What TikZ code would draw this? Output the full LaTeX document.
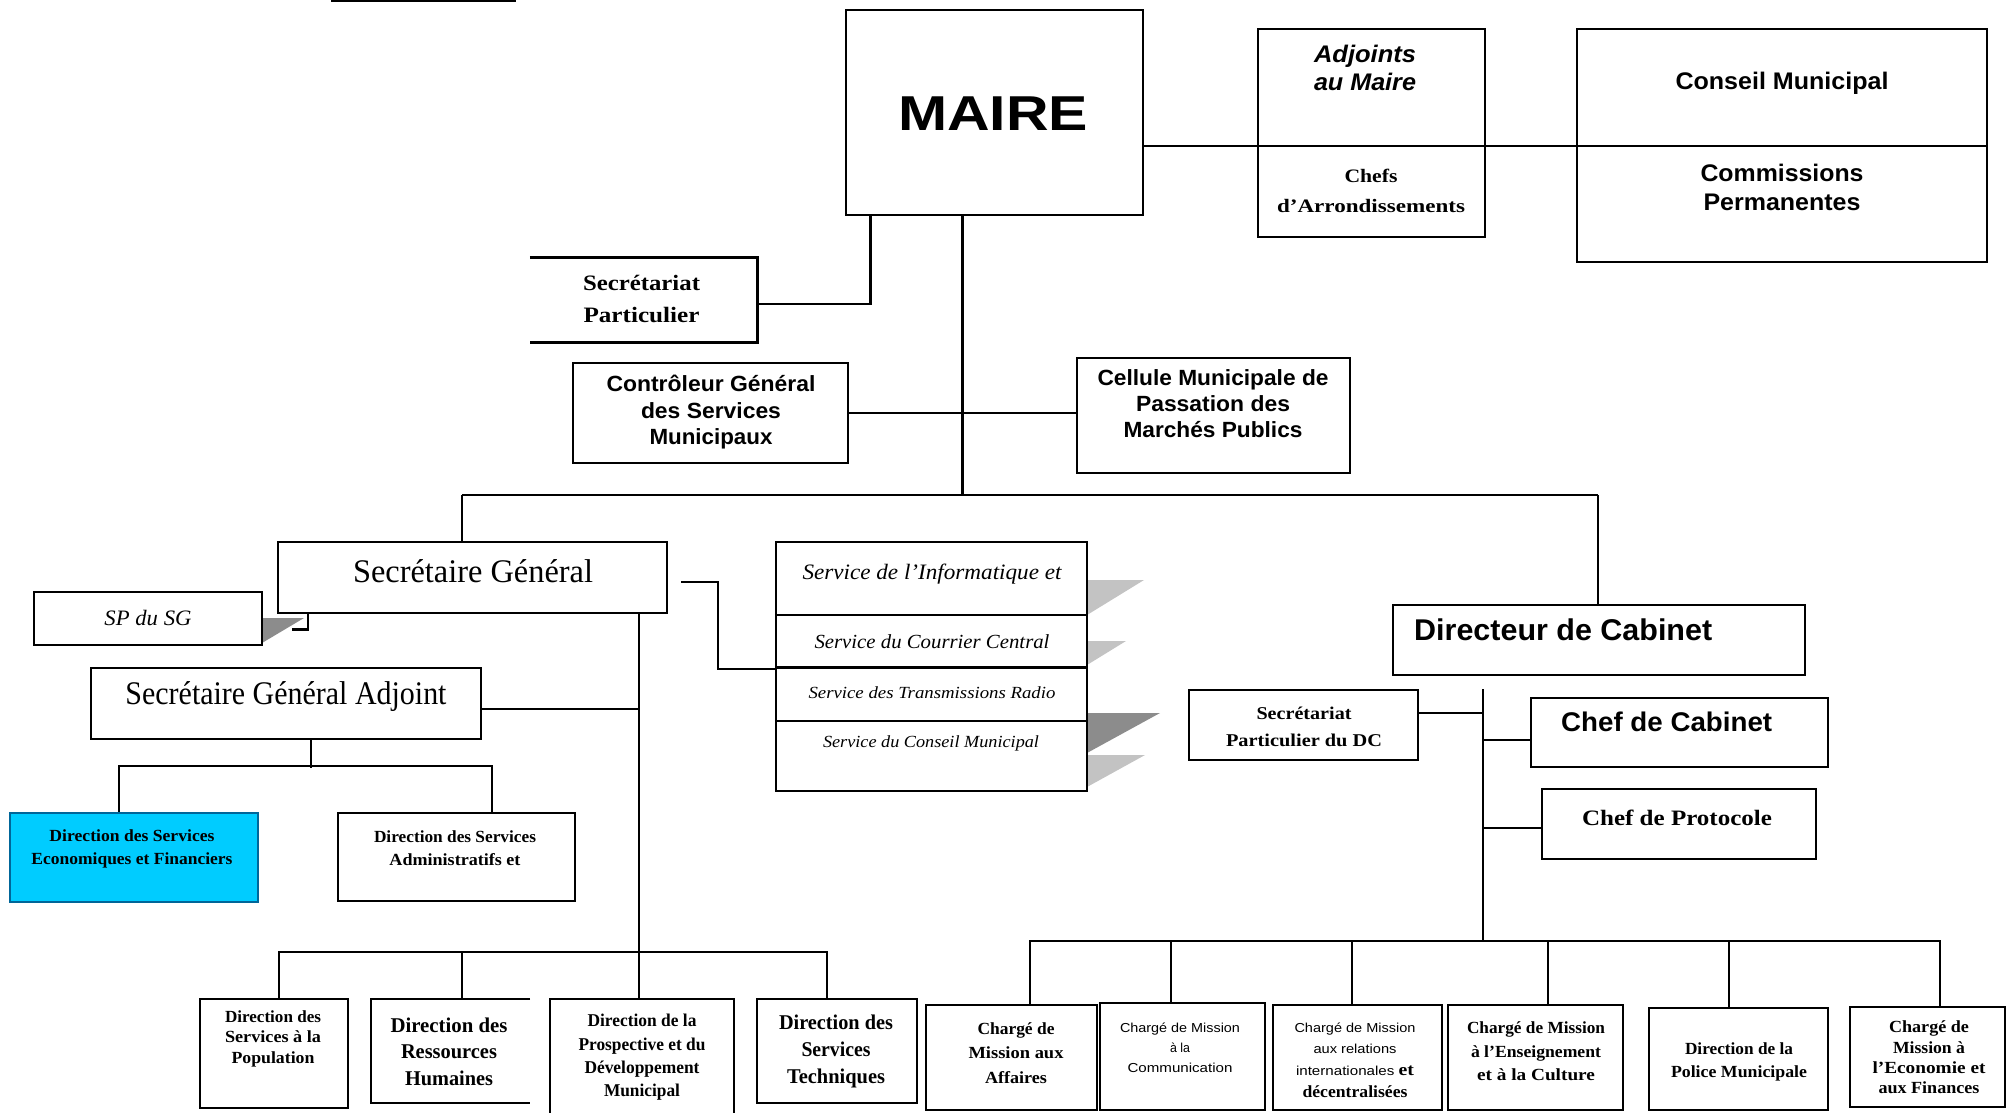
\documentclass[tikz,border=0pt]{standalone}
\usepackage{fontspec}
\setmainfont{Liberation Serif}
\setsansfont{Liberation Sans}
\newcommand{\fw}[2]{\resizebox{#1pt}{\height}{#2}}
\newcommand{\fs}[2]{\fontsize{#1pt}{#2pt}\selectfont}
\definecolor{cyanbox}{RGB}{0,204,255}
\definecolor{bluebord}{RGB}{0,102,153}
\definecolor{shlight}{RGB}{195,195,195}
\definecolor{shdark}{RGB}{140,140,140}
\begin{document}
\begin{tikzpicture}[x=1pt,y=-1pt,
  box/.style={draw, line width=2.2pt, inner sep=0pt},
  txt/.style={inner sep=0pt, align=center},
  conn/.style={line width=2.8pt},
  thinline/.style={line width=1.5pt}]
\useasboundingbox (0,0) rectangle (2011,1112);
\fill[white] (0,0) rectangle (2011,1112);

% stray top rule
\draw[line width=2.5pt] (331,1) -- (516,1);

% shadows
\fill[shlight] (1087,580) -- (1144,580) -- (1087,615) -- cycle;
\fill[shlight] (1087,641) -- (1126,641) -- (1087,665) -- cycle;
\fill[shdark]  (1087,713) -- (1160,713) -- (1087,753) -- cycle;
\fill[shlight] (1087,755) -- (1145,755) -- (1087,787) -- cycle;
\fill[shdark]  (262,618) -- (304,618) -- (262,643) -- cycle;

% ---------- boxes ----------
\node[box, line width=1.6pt, minimum width=297pt, minimum height=205pt] (maire) at (994.5,112.5) {};
\node[box, minimum width=227pt, minimum height=208pt] (adj) at (1371.5,133) {};
\node[box, minimum width=410pt, minimum height=233pt] (cons) at (1782,145.5) {};
\node[inner sep=0pt, minimum width=227pt, minimum height=84pt] (secp) at (643.5,300) {};
\node[box, minimum width=275pt, minimum height=100pt] (ctrl) at (710.5,413) {};
\node[box, minimum width=273pt, minimum height=115pt] (cell) at (1213.5,415.5) {};
\node[box, minimum width=389pt, minimum height=71pt] (sg) at (472.5,577.5) {};
\node[box, minimum width=228pt, minimum height=53pt] (spsg) at (148,618.5) {};
\node[box, minimum width=390pt, minimum height=71pt] (sga) at (286,703.5) {};
\node[box, draw=bluebord, fill=cyanbox, minimum width=248pt, minimum height=89pt] (dsef) at (134,857.5) {};
\node[box, minimum width=237pt, minimum height=88pt] (dsae) at (456.5,857) {};
\node[box, minimum width=311pt, minimum height=249pt] (svc) at (931.5,666.5) {};
\node[box, minimum width=412pt, minimum height=70pt] (dc) at (1599,640) {};
\node[box, minimum width=229pt, minimum height=70pt] (spdc) at (1303.5,725) {};
\node[box, minimum width=297pt, minimum height=69pt] (cc) at (1679.5,732.5) {};
\node[box, minimum width=274pt, minimum height=70pt] (cp) at (1679,824) {};
\node[box, minimum width=148pt, minimum height=109pt] (b1) at (274,1053.5) {};
\node[inner sep=0pt, minimum width=159pt, minimum height=104pt] (b2) at (450.5,1051) {};
\node[box, minimum width=184pt, minimum height=120pt] (b3) at (642,1059) {};
\node[box, minimum width=160pt, minimum height=104pt] (b4) at (837,1051) {};
\node[box, minimum width=171pt, minimum height=105pt] (r1) at (1011.5,1057.5) {};
\node[box, minimum width=165pt, minimum height=107pt] (r2) at (1182.5,1056.5) {};
\node[box, minimum width=169pt, minimum height=105pt] (r3) at (1357.5,1057.5) {};
\node[box, minimum width=175pt, minimum height=105pt] (r4) at (1535.5,1057.5) {};
\node[box, minimum width=179pt, minimum height=102pt] (r5) at (1738.5,1059) {};
\node[box, minimum width=155pt, minimum height=100pt] (r6) at (1927.5,1057) {};

% open-sided boxes
\draw[line width=2.8pt] (secp.north west) -- (secp.north east) -- (secp.south east) -- (secp.south west);
\draw[line width=2.2pt] (b2.north east) -- (b2.north west) -- (b2.south west) -- (b2.south east);

% dividers
\draw[thinline] ([yshift=-13pt]adj.west) -- ([yshift=-13pt]adj.east);
\draw[thinline] ([yshift=-0.5pt]cons.west) -- ([yshift=-0.5pt]cons.east);
\draw[line width=2pt] ([yshift=51.5pt]svc.west) -- ([yshift=51.5pt]svc.east);
\draw[line width=3pt] ([yshift=-0.5pt]svc.west) -- ([yshift=-0.5pt]svc.east);
\draw[line width=2pt] ([yshift=-54.5pt]svc.west) -- ([yshift=-54.5pt]svc.east);

% ---------- texts ----------
\node[txt, font=\sffamily\bfseries\fs{49}{50}] (mairet) at (993,114) {\fw{190}{MAIRE}};
\node[txt, font=\sffamily\bfseries\itshape\fs{24}{28}] (adjt) at (1365,68) {\fw{102}{Adjoints}\\\fw{102}{au Maire}};
\node[txt, font=\bfseries\fs{19}{30}] (chefst) at (1371,191) {\fw{53}{Chefs}\\\fw{188}{d’Arrondissements}};
\node[txt, font=\sffamily\bfseries\fs{24}{29}] (const) at (1782,83) {\fw{213}{Conseil Municipal}};
\node[txt, font=\sffamily\bfseries\fs{24}{29}] (commt) at (1782,187.5) {\fw{163}{Commissions}\\\fw{157}{Permanentes}};
\node[txt, font=\bfseries\fs{22}{32}] (secpt) at (641.5,299) {\fw{117}{Secrétariat}\\\fw{116}{Particulier}};
\node[txt, font=\sffamily\bfseries\fs{22}{26.5}] (ctrlt) at (711,412.5) {\fw{209}{Contrôleur Général}\\\fw{140}{des Services}\\\fw{123}{Municipaux}};
\node[txt, font=\sffamily\bfseries\fs{22}{26}] (cellt) at (1213,404) {\fw{231}{Cellule Municipale de}\\\fw{154}{Passation des}\\\fw{179}{Marchés Publics}};
\node[txt, font=\fs{33}{36}] (sgt) at (473,571) {\fw{240}{Secrétaire Général}};
\node[txt, font=\itshape\fs{22}{24}] (spsgt) at (148,618) {\fw{87}{SP du SG}};
\node[txt, font=\fs{33}{36}] (sgat) at (286,697) {\fw{321}{Secrétaire Général Adjoint}};
\node[txt, font=\bfseries\fs{17}{23}] (dseft) at (132,848.5) {\fw{165}{Direction des Services}\\\fw{201}{Economiques et Financiers}};
\node[txt, font=\bfseries\fs{17}{23}] (dsaet) at (455,848.5) {\fw{162}{Direction des Services}\\\fw{131}{Administratifs et}};
\node[txt, font=\itshape\fs{22}{24}] (svc1) at (932,574) {\fw{259}{Service de l’Informatique et}};
\node[txt, font=\itshape\fs{20}{22}] (svc2) at (932,642) {\fw{235}{Service du Courrier Central}};
\node[txt, font=\itshape\fs{17}{20}] (svc3) at (932,693) {\fw{247}{Service des Transmissions Radio}};
\node[txt, font=\itshape\fs{17}{20}] (svc4) at (931,743) {\fw{216}{Service du Conseil Municipal}};
\node[txt, anchor=west, font=\sffamily\bfseries\fs{30}{32}] (dct) at (1414,630) {\fw{298}{Directeur de Cabinet}};
\node[txt, font=\bfseries\fs{18}{27}] (spdct) at (1304,726.5) {\fw{95}{Secrétariat}\\\fw{156}{Particulier du DC}};
\node[txt, anchor=west, font=\sffamily\bfseries\fs{27}{30}] (cct) at (1561,722) {\fw{211}{Chef de Cabinet}};
\node[txt, font=\bfseries\fs{22}{24}] (cpt) at (1677,818) {\fw{190}{Chef de Protocole}};
\node[txt, font=\bfseries\fs{17}{20.5}] (b1t) at (273,1038.5) {\fw{96}{Direction des}\\\fw{96}{Services à la}\\\fw{83}{Population}};
\node[txt, font=\bfseries\fs{21}{26.5}] (b2t) at (449,1051.5) {\fw{117}{Direction des}\\\fw{96}{Ressources}\\\fw{88}{Humaines}};
\node[txt, font=\bfseries\fs{18}{23.3}] (b3t) at (642,1057.5) {\fw{109}{Direction de la}\\\fw{127}{Prospective et du}\\\fw{115}{Développement}\\\fw{76}{Municipal}};
\node[txt, font=\bfseries\fs{21}{27}] (b4t) at (836,1051) {\fw{114}{Direction des}\\\fw{69}{Services}\\\fw{98}{Techniques}};
\node[txt, font=\bfseries\fs{17}{24.5}] (r1t) at (1016,1053) {\fw{77}{Chargé de}\\\fw{95}{Mission aux}\\\fw{62}{Affaires}};
\node[txt, font=\sffamily\fs{13}{20}] (r2t) at (1180,1048) {\fw{120}{Chargé de Mission}\\\fw{20}{à la}\\\fw{105}{Communication}};
\node[txt, font=\sffamily\fs{13}{21.7}] (r3t) at (1355,1060) {\fw{121}{Chargé de Mission}\\\fw{83}{aux relations}\\\fw{118}{internationales \textbf{\rmfamily\fs{17}{21.7}et}}\\{\rmfamily\bfseries\fs{17}{21.7}\fw{105}{décentralisées}}};
\node[txt, font=\bfseries\fs{17}{23.5}] (r4t) at (1536,1051.5) {\fw{138}{Chargé de Mission}\\\fw{130}{à l’Enseignement}\\\fw{118}{et à la Culture}};
\node[txt, font=\bfseries\fs{17}{23}] (r5t) at (1739,1061.5) {\fw{108}{Direction de la}\\\fw{136}{Police Municipale}};
\node[txt, font=\bfseries\fs{17}{20.3}] (r6t) at (1929,1057.5) {\fw{80}{Chargé de}\\\fw{72}{Mission à}\\\fw{113}{l’Economie et}\\\fw{101}{aux Finances}};

% ---------- connectors ----------
\coordinate (busL) at (462,495);
\coordinate (busM) at (962.5,495);
\coordinate (busR) at (1598,495);
\coordinate (sgbus) at (639,953);
\coordinate (sgout) at (681,582);
\coordinate (dctop) at (1483,689);
\coordinate (dcbus) at (1483,942);

\draw[line width=2pt] ([yshift=-33.5pt]maire.east) -- ([yshift=-13pt]adj.west);
\draw[line width=2pt] ([yshift=-13pt]adj.east) -- ([yshift=-0.5pt]cons.west);
\draw[conn] ([xshift=-124pt]maire.south) |- ([yshift=-4pt]secp.east);
\draw[conn] ([xshift=-32pt]maire.south) -- (busM);
\draw[conn] (ctrl.east) -- ([yshift=2.5pt]cell.west);
\draw[conn] (busL) -- (busR);
\draw[conn] (busL) -- (busL |- sg.north);
\draw[conn] (busR) -- (busR |- dc.north);

% SG branch
\draw[conn] ([xshift=166.5pt]sg.south) -- (sgbus);
\draw[conn] ([xshift=-164.5pt]sg.south) -- ++(0,15) -- ++(-16,0);
\draw[conn] ([yshift=-5.5pt]sga.east) -- ++(158,0);
\draw[conn] (sgout) -- ++(37,0) |- ([yshift=-2.5pt]svc.west);
\draw[conn] ([xshift=25pt]sga.south) -- ++(0,28);
\draw[conn] ([xshift=-15pt]dsef.north) -- ++(0,-46) -| ([xshift=35.5pt]dsae.north);
\draw[conn] ([xshift=5pt]b1.north) -- ++(0,-46) -| ([xshift=-10pt]b4.north);
\draw[conn] ([xshift=11.5pt]b2.north) -- ++(0,-46);
\draw[conn] ([xshift=-3pt]b3.north) -- ++(0,-46);

% DC branch
\draw[conn] (dctop) -- (dcbus);
\draw[conn] ([yshift=12pt]spdc.east) -- ++(65,0);
\draw[conn] ([yshift=-7.5pt]cc.west) -- ++(-48,0);
\draw[conn] ([yshift=-4pt]cp.west) -- ++(-59,0);
\draw[conn] ([xshift=18.5pt]r1.north) -- ++(0,-63) -| ([xshift=12.5pt]r6.north);
\draw[conn] ([xshift=-11.5pt]r2.north) -- ++(0,-61);
\draw[conn] ([xshift=-5.5pt]r3.north) -- ++(0,-63);
\draw[conn] ([xshift=12.5pt]r4.north) -- ++(0,-63);
\draw[conn] ([xshift=-9.5pt]r5.north) -- ++(0,-66);
\end{tikzpicture}
\end{document}
